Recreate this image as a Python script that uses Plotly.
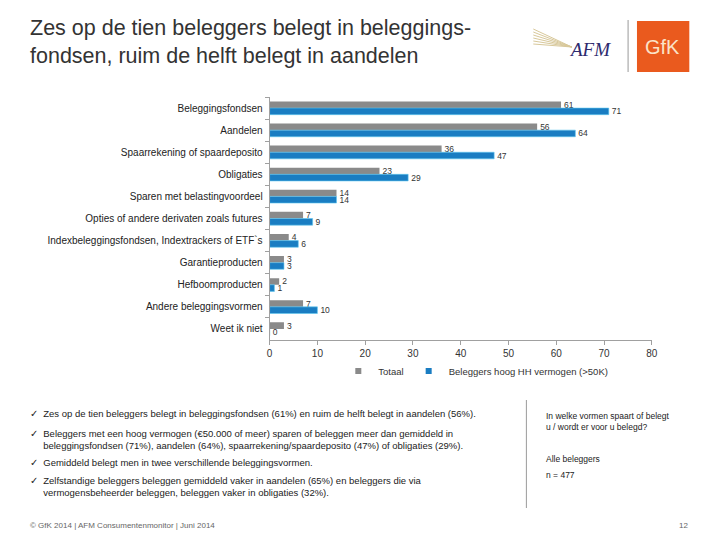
import plotly.graph_objects as go

categories = ["Beleggingsfondsen", "Aandelen", "Spaarrekening of spaardeposito", "Obligaties",
              "Sparen met belastingvoordeel", "Opties of andere derivaten zoals futures",
              "Indexbeleggingsfondsen, Indextrackers of ETF`s", "Garantieproducten",
              "Hefboomproducten", "Andere beleggingsvormen", "Weet ik niet"]
totaal = [61, 56, 36, 23, 14, 7, 4, 3, 2, 7, 3]
hoog_hh = [71, 64, 47, 29, 14, 9, 6, 3, 1, 10, 0]
x_ticks = [0, 10, 20, 30, 40, 50, 60, 70, 80]
series_names = ["Totaal", "Beleggers hoog HH vermogen (>50K)"]

FONT = "Liberation Sans, Arial, sans-serif"
GREY = "#8a8a8a"
BLUE = "#1a7dc2"

fig = go.Figure()
fig.add_trace(go.Bar(
    y=categories, x=totaal, orientation="h", name=series_names[0], showlegend=False,
    marker=dict(color=GREY, line=dict(width=0)),
    text=[str(v) for v in totaal], textposition="outside", cliponaxis=False,
    constraintext="none", textangle=0,
    textfont=dict(size=8.5, color="#333333", family=FONT),
))
fig.add_trace(go.Bar(
    y=categories, x=hoog_hh, orientation="h", name=series_names[1], showlegend=False,
    marker=dict(color=BLUE, line=dict(width=0.6, color="#5ec8f0")),
    text=[str(v) for v in hoog_hh], textposition="outside", cliponaxis=False,
    constraintext="none", textangle=0,
    textfont=dict(size=8.5, color="#333333", family=FONT),
))
# legend entries with small square swatches
for name, col in zip(series_names, [GREY, BLUE]):
    fig.add_trace(go.Scatter(x=[None], y=[None], mode="markers", name=name,
                             marker=dict(symbol="square", size=6, color=col)))

fig.update_layout(
    width=720, height=540,
    margin=dict(l=0, r=0, t=0, b=0),
    paper_bgcolor="white", plot_bgcolor="white",
    barmode="group", bargap=0.4, bargroupgap=0.0,
    font=dict(family=FONT, color="#222222"),
    showlegend=True,
    legend=dict(orientation="h", x=0.665, y=1-371/540, xanchor="center", yanchor="middle",
                bgcolor="rgba(0,0,0,0)",
                font=dict(size=9.5, color="#333333", family=FONT),
                itemwidth=30, traceorder="normal"),
    xaxis=dict(domain=[0.375, 0.9125], range=[0, 80], tickvals=x_ticks,
               showgrid=False, zeroline=False, showline=True, linecolor="#a0a0a0",
               ticks="outside", ticklen=4, tickcolor="#a0a0a0",
               tickfont=dict(size=10, color="#333333", family=FONT)),
    yaxis=dict(domain=[1-340/540, 1-97/540], autorange="reversed",
               categoryorder="array", categoryarray=categories,
               showgrid=False, zeroline=False, showline=True, linecolor="#a0a0a0",
               ticks="outside", ticklen=4, tickcolor="#a0a0a0", tickson="boundaries",
               ticklabelstandoff=4,
               tickfont=dict(size=10, color="#222222", family=FONT)),
)

# Title
fig.add_annotation(xref="paper", yref="paper", x=25/720, y=1-14/540, xanchor="left", yanchor="top",
                   text="Zes op de tien beleggers belegt in beleggings-<br>fondsen, ruim de helft belegt in aandelen",
                   showarrow=False, align="left",
                   font=dict(size=21.5, color="#333333", family=FONT))

# Logos
fig.add_shape(type="line", xref="paper", yref="paper", x0=633/720, x1=633/720,
              y0=1-20/540, y1=1-72/540, line=dict(color="#9a9a9a", width=1))
fig.add_shape(type="rect", xref="paper", yref="paper", x0=642/720, x1=695/720,
              y0=1-21/540, y1=1-72/540, line=dict(width=0), fillcolor="#ea5a1e")
fig.add_annotation(xref="paper", yref="paper", x=668/720, y=1-47/540, text="GfK",
                   xanchor="center", yanchor="middle",
                   showarrow=False, font=dict(size=20, color="#fbe3c8", family=FONT))
fig.add_annotation(xref="paper", yref="paper", x=594/720, y=1-50/540, text="<i>AFM</i>",
                   xanchor="center", yanchor="middle",
                   showarrow=False, font=dict(size=19, color="#2e2a6e", family="Liberation Serif, serif"))
for dy in [0, 3, 6, 9, 12, 15]:
    fig.add_shape(type="line", xref="paper", yref="paper",
                  x0=537 / 720, y0=1 - (29 + dy) / 540,
                  x1=576 / 720, y1=1 - 47 / 540,
                  line=dict(color="#d8c89a", width=1))

# Bullets
bullets = [
    (413, "✓  Zes op de tien beleggers belegt in beleggingsfondsen (61%) en ruim de helft belegt in aandelen (56%)."),
    (433, "✓  Beleggers met een hoog vermogen (€50.000 of meer) sparen of beleggen meer dan gemiddeld in<br>"
          "     beleggingsfondsen (71%), aandelen (64%), spaarrekening/spaardeposito (47%) of obligaties (29%)."),
    (462, "✓  Gemiddeld belegt men in twee verschillende beleggingsvormen."),
    (480, "✓  Zelfstandige beleggers beleggen gemiddeld vaker in aandelen (65%) en beleggers die via<br>"
          "     vermogensbeheerder beleggen, beleggen vaker in obligaties (32%)."),
]
for y, t in bullets:
    fig.add_annotation(xref="paper", yref="paper", x=25/720, y=1-(y-7)/540, xanchor="left", yanchor="top",
                       text=t, showarrow=False, align="left",
                       font=dict(size=9.5, color="#222222", family=FONT))

# Right side box
fig.add_shape(type="line", xref="paper", yref="paper", x0=530/720, x1=530/720,
              y0=1-400/540, y1=1-508/540, line=dict(color="#9a9a9a", width=1))
fig.add_annotation(xref="paper", yref="paper", x=548/720, y=1-409/540, xanchor="left", yanchor="top",
                   text="In welke vormen spaart of belegt<br>u / wordt er voor u belegd?",
                   showarrow=False, align="left", font=dict(size=8.5, color="#222222", family=FONT))
fig.add_annotation(xref="paper", yref="paper", x=548/720, y=1-452/540, xanchor="left", yanchor="top",
                   text="Alle beleggers", showarrow=False, align="left",
                   font=dict(size=8.5, color="#222222", family=FONT))
fig.add_annotation(xref="paper", yref="paper", x=548/720, y=1-468/540, xanchor="left", yanchor="top",
                   text="n = 477", showarrow=False, align="left",
                   font=dict(size=8.5, color="#222222", family=FONT))

# Footer
fig.add_annotation(xref="paper", yref="paper", x=25/720, y=1-525/540, xanchor="left", yanchor="middle",
                   text="© GfK 2014 | AFM Consumentenmonitor | Juni 2014", showarrow=False,
                   font=dict(size=8, color="#666666", family=FONT))
fig.add_annotation(xref="paper", yref="paper", x=696/720, y=1-525/540, xanchor="right", yanchor="middle",
                   text="12", showarrow=False, font=dict(size=8, color="#666666", family=FONT))

fig.write_html("out.html", config={"displayModeBar": False},
               post_script="document.body.style.margin='0';document.body.style.overflow='hidden';")
